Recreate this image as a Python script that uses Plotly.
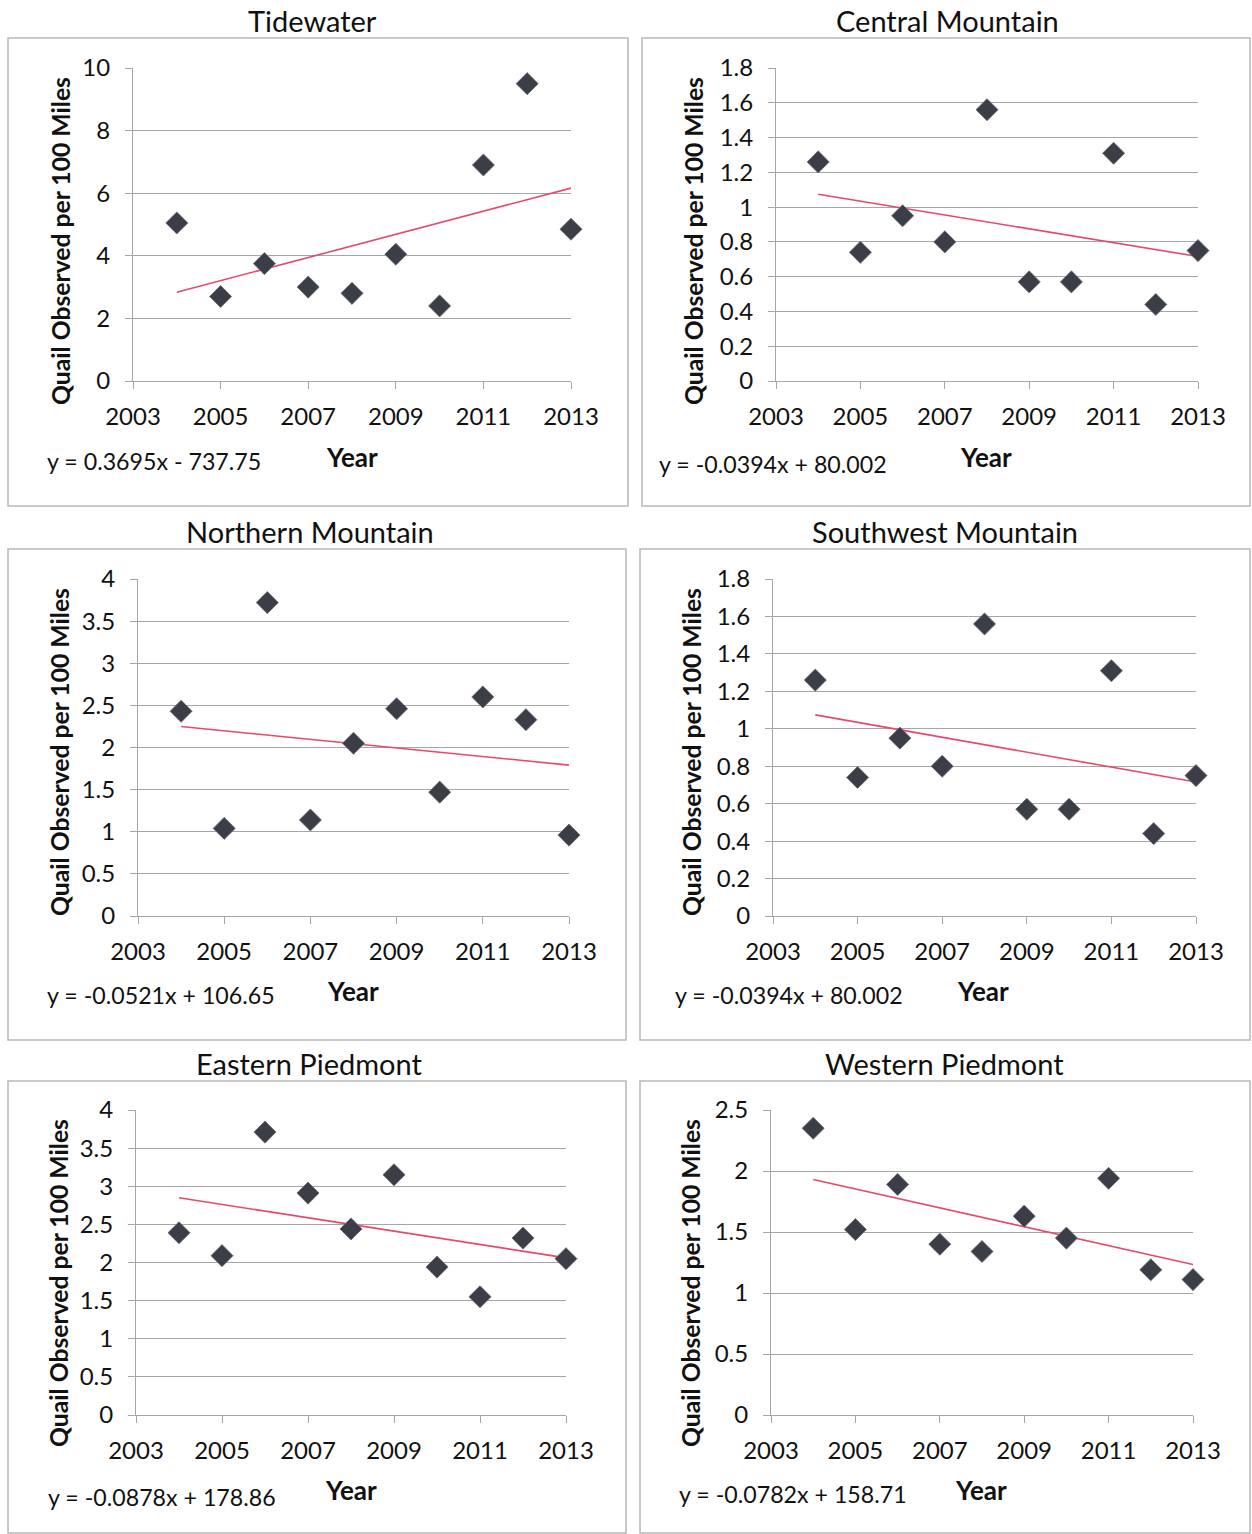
import numpy as np
import plotly.graph_objects as go

years = [2004, 2005, 2006, 2007, 2008, 2009, 2010, 2011, 2012, 2013]

tidewater = [5.05, 2.7, 3.75, 3.0, 2.8, 4.05, 2.4, 6.9, 9.5, 4.85]
central_mountain = [1.26, 0.74, 0.95, 0.80, 1.56, 0.57, 0.57, 1.31, 0.44, 0.75]
northern_mountain = [2.43, 1.04, 3.72, 1.14, 2.05, 2.46, 1.47, 2.60, 2.33, 0.96]
southwest_mountain = [1.26, 0.74, 0.95, 0.80, 1.56, 0.57, 0.57, 1.31, 0.44, 0.75]
eastern_piedmont = [2.39, 2.09, 3.71, 2.91, 2.44, 3.15, 1.94, 1.55, 2.32, 2.05]
western_piedmont = [2.35, 1.52, 1.89, 1.40, 1.34, 1.63, 1.45, 1.94, 1.19, 1.11]

titles = ["Tidewater", "Central Mountain", "Northern Mountain",
          "Southwest Mountain", "Eastern Piedmont", "Western Piedmont"]
equations = ["y = 0.3695x - 737.75", "y = -0.0394x + 80.002", "y = -0.0521x + 106.65",
             "y = -0.0394x + 80.002", "y = -0.0878x + 178.86", "y = -0.0782x + 158.71"]
y_max = [10, 1.8, 4, 1.8, 4, 2.5]
y_dtick = [2, 0.2, 0.5, 0.2, 0.5, 0.5]
x_ticks = [2003, 2005, 2007, 2009, 2011, 2013]
series = [tidewater, central_mountain, northern_mountain,
          southwest_mountain, eastern_piedmont, western_piedmont]

W, H = 1252, 1534
FONT = "Lato"
# layout in pixels (plot area left, right, top, bottom)
plot_px = [(133, 571, 68, 381), (776, 1198, 68, 381),
           (138, 569, 579, 916), (773, 1196, 579, 916),
           (136, 566, 1110, 1415), (771, 1193, 1110, 1415)]
box_px = [(8, 628, 38, 506), (642, 1250, 38, 506),
          (8, 626, 549, 1040), (640, 1250, 549, 1040),
          (8, 626, 1081, 1533), (640, 1250, 1081, 1533)]
title_px = [(312, 20), (947, 20), (310, 531), (945, 531), (309, 1063), (944, 1063)]
ytitle_px = [(60, 241), (693, 241), (60, 752), (692, 752), (58, 1283), (690, 1283)]
year_px = [(352, 457), (986, 457), (353, 991), (983, 991), (351, 1490), (981, 1490)]
eq_px = [(45, 461), (657, 464), (45, 995), (673, 995), (46, 1497), (677, 1494)]

def px(x):
    return x / W

def py(y):
    return 1 - y / H

fig = go.Figure()
annotations = []
shapes = []
grid_col = "#a6a6a6"

for i in range(6):
    k = "" if i == 0 else str(i + 1)
    xa, ya = "x" + k, "y" + k
    vals = series[i]
    slope, intercept = np.polyfit(years, vals, 1)
    fx = [years[0], years[-1]]
    fy = [slope * v + intercept for v in fx]
    fig.add_trace(go.Scatter(
        x=fx, y=fy, mode="lines", xaxis=xa, yaxis=ya, cliponaxis=False,
        line=dict(color="#e8486a", width=1.6), showlegend=False))
    fig.add_trace(go.Scatter(
        x=years, y=vals, mode="markers", xaxis=xa, yaxis=ya, cliponaxis=False,
        marker=dict(symbol="diamond", size=17, color="#3b3e46",
                    line=dict(width=0.8, color="#6a6d75")),
        showlegend=False))
    l, r, t, b = plot_px[i]
    fig.update_layout(**{
        "xaxis" + k: dict(domain=[px(l), px(r)], range=[2003, 2013],
                          tickvals=x_ticks, showgrid=False, zeroline=False,
                          showline=True, linecolor=grid_col, linewidth=1,
                          ticks="outside", ticklen=7, tickcolor=grid_col,
                          anchor=ya, ticklabelstandoff=7, automargin=False,
                          tickfont=dict(family=FONT, size=24, color="#111")),
        "yaxis" + k: dict(domain=[py(b), py(t)], range=[0, y_max[i]],
                          dtick=y_dtick[i], showgrid=True, gridcolor=grid_col,
                          gridwidth=1, zeroline=False, showline=True,
                          linecolor=grid_col, linewidth=1, ticks="outside",
                          ticklen=7, tickcolor=grid_col, anchor=xa,
                          ticklabelstandoff=10, automargin=False,
                          tickfont=dict(family=FONT, size=24, color="#111")),
    })
    bl, br, bt, bb = box_px[i]
    shapes.append(dict(type="rect", xref="paper", yref="paper",
                       x0=px(bl), x1=px(br), y0=py(bb), y1=py(bt),
                       line=dict(color="#b8b8b8", width=1.5)))
    tx, ty = title_px[i]
    annotations.append(dict(text=titles[i], x=px(tx), y=py(ty), xref="paper",
                            yref="paper", showarrow=False, xanchor="center",
                            yanchor="middle",
                            font=dict(family=FONT, size=29, color="#111")))
    yx, yy = ytitle_px[i]
    annotations.append(dict(text="<b>Quail Observed per 100 Miles</b>",
                            x=px(yx), y=py(yy), xref="paper", yref="paper",
                            showarrow=False, textangle=-90, xanchor="center",
                            yanchor="middle",
                            font=dict(family=FONT, size=24.7, color="#111")))
    wx, wy = year_px[i]
    annotations.append(dict(text="<b>Year</b>", x=px(wx), y=py(wy), xref="paper",
                            yref="paper", showarrow=False, xanchor="center",
                            yanchor="middle",
                            font=dict(family=FONT, size=26, color="#111")))
    ex, ey = eq_px[i]
    annotations.append(dict(text=equations[i], x=px(ex), y=py(ey), xref="paper",
                            yref="paper", showarrow=False, xanchor="left",
                            yanchor="middle",
                            font=dict(family=FONT, size=23.2, color="#111")))

fig.update_layout(width=W, height=H, margin=dict(l=0, r=0, t=0, b=0),
                  paper_bgcolor="white", plot_bgcolor="white",
                  annotations=annotations, shapes=shapes)
fig.write_html("out.html", config={"displayModeBar": False},
               post_script="document.body.style.margin='0px';"
                           "document.body.style.overflow='hidden';")
